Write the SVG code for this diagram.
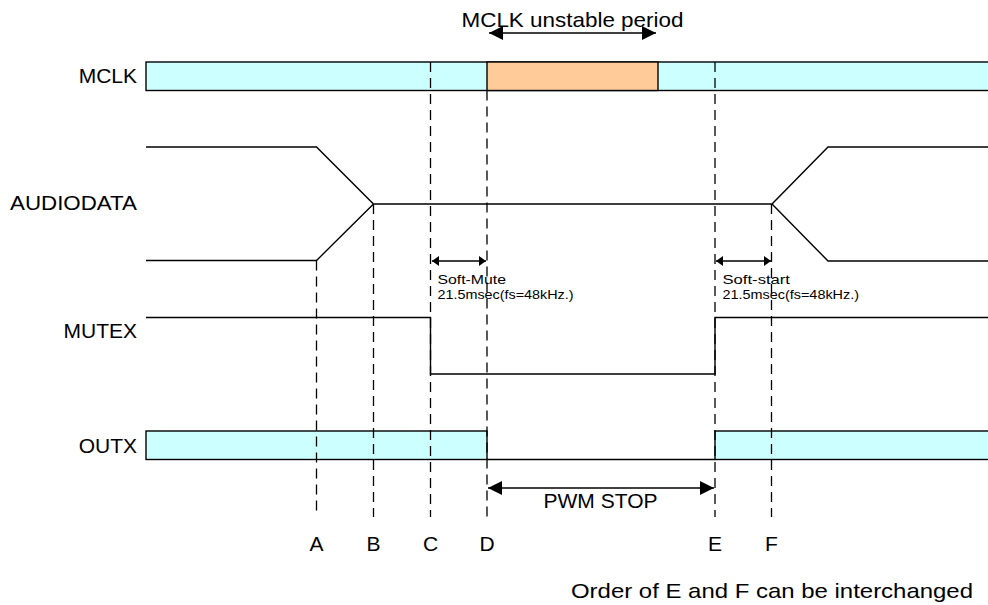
<svg xmlns="http://www.w3.org/2000/svg" width="988" height="605" viewBox="0 0 988 605">
<style>
  .lbl { font-family: "Liberation Sans", Arial, sans-serif; font-size: 21px; fill: #000; }
  .sm { font-family: "Liberation Sans", Arial, sans-serif; font-size: 13px; fill: #000; }
  .sig { fill: none; stroke: #000; stroke-width: 1.4; }
  .dash { fill: none; stroke: #000; stroke-width: 1.3; stroke-dasharray: 10 6; }
  .cyan { fill: #CCFFFF; stroke: #000; stroke-width: 1.4; }
  .orange { fill: #FFCC99; stroke: #000; stroke-width: 1.4; }
  .arr { fill: none; stroke: #000; stroke-width: 1.4; }
</style>
<defs>
  <marker id="ah" markerUnits="userSpaceOnUse" markerWidth="14" markerHeight="14" viewBox="0 0 12 12" refX="12" refY="6" orient="auto-start-reverse">
    <path d="M0,0 L12,6 L0,12 Z" fill="#000"/>
  </marker>
  <marker id="ahs" markerUnits="userSpaceOnUse" markerWidth="8" markerHeight="10" viewBox="0 0 7 10" refX="7" refY="5" orient="auto-start-reverse">
    <path d="M0,0 L7,5 L0,10 Z" fill="#000"/>
  </marker>
</defs>
<rect width="988" height="605" fill="#fff"/>

<g id="mclk">
  <rect class="cyan" x="146" y="62" width="850" height="28.5"/>
  <rect class="orange" x="487" y="62" width="171" height="28.5"/>
  <text class="lbl" x="137" y="83" text-anchor="end">MCLK</text>
</g>

<g id="mclk-unstable">
  <line class="arr" x1="489" y1="33" x2="656" y2="33" marker-start="url(#ah)" marker-end="url(#ah)"/>
  <text class="lbl" x="461.5" y="26.5" font-size="20" textLength="222" lengthAdjust="spacingAndGlyphs">MCLK unstable period</text>
</g>

<g id="audiodata">
  <polyline class="sig" points="146,147 316.5,147 373.5,204 772,204 828,147 995,147"/>
  <polyline class="sig" points="146,260.5 316.5,260.5 373.5,204"/>
  <polyline class="sig" points="772,204 828,261 995,261"/>
  <text class="lbl" x="137" y="210" text-anchor="end" textLength="127" lengthAdjust="spacingAndGlyphs">AUDIODATA</text>
</g>

<g id="mutex">
  <polyline class="sig" points="146,317.5 430.5,317.5 430.5,374 715,374 715,317.5 995,317.5"/>
  <text class="lbl" x="137" y="338" text-anchor="end">MUTEX</text>
</g>

<g id="outx">
  <rect class="cyan" x="146" y="431" width="341" height="28.5"/>
  <line class="sig" x1="487" y1="459.5" x2="715" y2="459.5"/>
  <rect class="cyan" x="715" y="431" width="280" height="28.5"/>
  <text class="lbl" x="137" y="452.5" text-anchor="end">OUTX</text>
</g>

<g id="soft-mute">
  <line class="arr" x1="432" y1="261" x2="486" y2="261" marker-start="url(#ahs)" marker-end="url(#ahs)"/>
  <text class="sm" x="437.5" y="283.5" textLength="68.5" lengthAdjust="spacingAndGlyphs">Soft-Mute</text>
  <text class="sm" x="437.5" y="299" textLength="136" lengthAdjust="spacingAndGlyphs">21.5msec(fs=48kHz.)</text>
</g>

<g id="soft-start">
  <line class="arr" x1="716" y1="261" x2="771" y2="261" marker-start="url(#ahs)" marker-end="url(#ahs)"/>
  <text class="sm" x="722.5" y="283.5" textLength="67.5" lengthAdjust="spacingAndGlyphs">Soft-start</text>
  <text class="sm" x="722.5" y="299" textLength="136.5" lengthAdjust="spacingAndGlyphs">21.5msec(fs=48kHz.)</text>
</g>

<g id="pwm-stop">
  <line class="arr" x1="488" y1="488" x2="714" y2="488" marker-start="url(#ah)" marker-end="url(#ah)"/>
  <text class="lbl" x="600.5" y="508" text-anchor="middle">PWM STOP</text>
</g>

<g id="connectors">
  <line class="dash" x1="316.5" y1="260.5" x2="316.5" y2="514"/>
  <line class="dash" x1="373.5" y1="204" x2="373.5" y2="517"/>
  <line class="dash" x1="430.5" y1="62" x2="430.5" y2="517"/>
  <line class="dash" x1="487" y1="90.5" x2="487" y2="517"/>
  <line class="dash" x1="715" y1="62" x2="715" y2="517"/>
  <line class="dash" x1="771.5" y1="204" x2="771.5" y2="517"/>
</g>

<g id="time-labels">
  <text class="lbl" x="316.5" y="551" text-anchor="middle">A</text>
  <text class="lbl" x="373.5" y="551" text-anchor="middle">B</text>
  <text class="lbl" x="430.5" y="551" text-anchor="middle">C</text>
  <text class="lbl" x="487" y="551" text-anchor="middle">D</text>
  <text class="lbl" x="715" y="551" text-anchor="middle">E</text>
  <text class="lbl" x="771.5" y="551" text-anchor="middle">F</text>
</g>

<g id="note">
  <text class="lbl" x="571" y="598" textLength="402" lengthAdjust="spacingAndGlyphs">Order of E and F can be interchanged</text>
</g>
</svg>
